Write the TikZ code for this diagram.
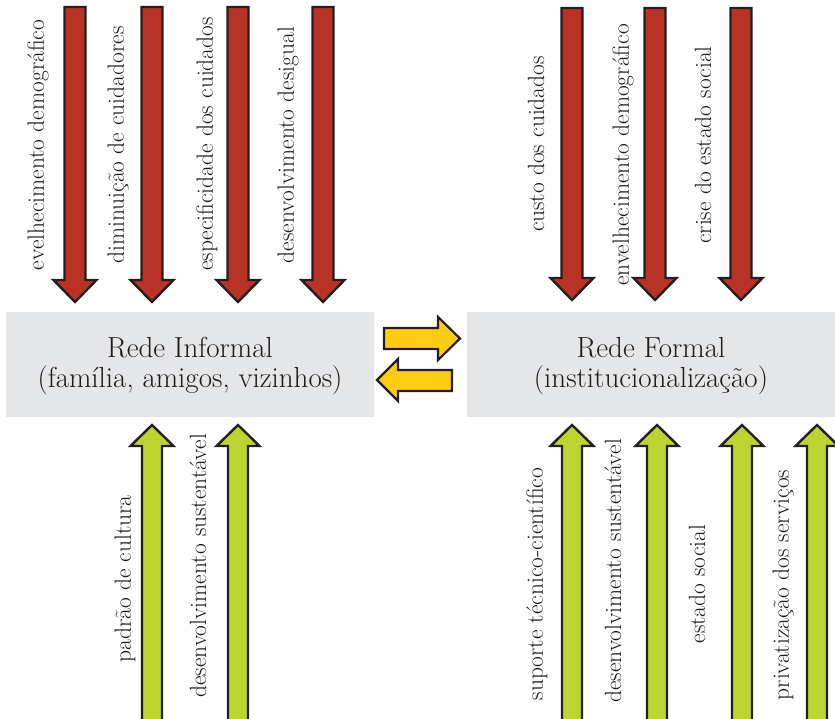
\documentclass[tikz,border=0pt]{standalone}
\usepackage{fontspec}
\definecolor{arrred}{RGB}{184,51,38}
\definecolor{arrgreen}{RGB}{188,212,48}
\definecolor{arryellow}{RGB}{254,204,16}
\definecolor{boxgray}{RGB}{229,230,232}
\definecolor{outl}{RGB}{35,31,32}
\definecolor{txt}{RGB}{30,26,27}
\tikzset{
  arr/.style={draw=outl, line width=2.4pt, line join=miter},
  redarr/.style={arr, fill=arrred},
  grnarr/.style={arr, fill=arrgreen},
  yelarr/.style={arr, fill=arryellow, line width=2.2pt},
  vlabel/.style={rotate=90, text=txt, inner sep=0pt, font=\fontsize{23.5}{27}\selectfont},
  netbox/.style={fill=boxgray, inner sep=0pt, text=txt, align=center, font=\fontsize{29}{30}\selectfont}
}
\newcommand{\DownArr}[3]{\draw[redarr] ({#1-10.5},{-#2}) -- ({#1+10.5},{-#2}) -- ({#1+10.5},{-#3+22}) -- ({#1+21.5},{-#3+22}) -- (#1,{-#3}) -- ({#1-21.5},{-#3+22}) -- ({#1-10.5},{-#3+22}) -- cycle;}
\newcommand{\UpArr}[3]{\draw[grnarr] (#1,{-#2}) -- ({#1+21.5},{-#2-21}) -- ({#1+10},{-#2-21}) -- ({#1+10},{-#3}) -- ({#1-10},{-#3}) -- ({#1-10},{-#2-21}) -- ({#1-21.5},{-#2-21}) -- cycle;}
\begin{document}
\begin{tikzpicture}[x=1pt,y=1pt]
\useasboundingbox (0,0) rectangle (835,-718);
\begin{scope}
\clip (0,0) rectangle (835,-718);
% boxes
\fill[boxgray] (6,-312) rectangle (374,-417);
\fill[boxgray] (467,-312) rectangle (840,-417);
\node[netbox] (informal) at (190,-366) {Rede Informal\\(família, amigos, vizinhos)};
\node[netbox] (formal) at (651,-366) {Rede Formal\\(institucionalização)};
% top red arrows
\DownArr{75}{7}{302}
\DownArr{152}{7}{302}
\DownArr{238}{7}{302}
\DownArr{323}{7}{302}
\DownArr{572}{8}{300}
\DownArr{655}{8}{300}
\DownArr{741}{8}{300}
% bottom green arrows
\UpArr{152}{425}{730}
\UpArr{238}{425}{730}
\UpArr{572}{425}{730}
\UpArr{657}{425}{730}
\UpArr{742}{425}{730}
\UpArr{817}{425}{730}
% swap arrows
\draw[yelarr] (384,-328) -- (438,-328) -- (438,-317) -- (460,-338.5) -- (438,-360) -- (438,-349) -- (384,-349) -- cycle;
\draw[yelarr] (377,-380) -- (398,-359) -- (398,-370) -- (452,-370) -- (452,-391) -- (398,-391) -- (398,-401) -- cycle;
\end{scope}
% labels top
\node[vlabel] (l1) at (38,-145) {evelhecimento demográfico};
\node[vlabel] (l2) at (118,-145) {diminuição de cuidadores};
\node[vlabel] (l3) at (207,-144) {especificidade dos cuidados};
\node[vlabel] (l4) at (288,-145) {desenvolvimento desigual};
\node[vlabel] (r1) at (536,-144) {custo dos cuidados};
\node[vlabel] (r2) at (623,-155) {envelhecimento demográfico};
\node[vlabel] (r3) at (703,-145) {crise do estado social};
% labels bottom
\node[vlabel] (b1) at (125,-579) {padrão de cultura};
\node[vlabel] (b2) at (198,-566) {desenvolvimento sustentável};
\node[vlabel] (b3) at (537,-584) {suporte técnico-científico};
\node[vlabel] (b4) at (613,-571) {desenvolvimento sustentável};
\node[vlabel] (b5) at (697,-584) {estado social};
\node[vlabel] (b6) at (783,-585) {privatização dos serviços};
\end{tikzpicture}
\end{document}
